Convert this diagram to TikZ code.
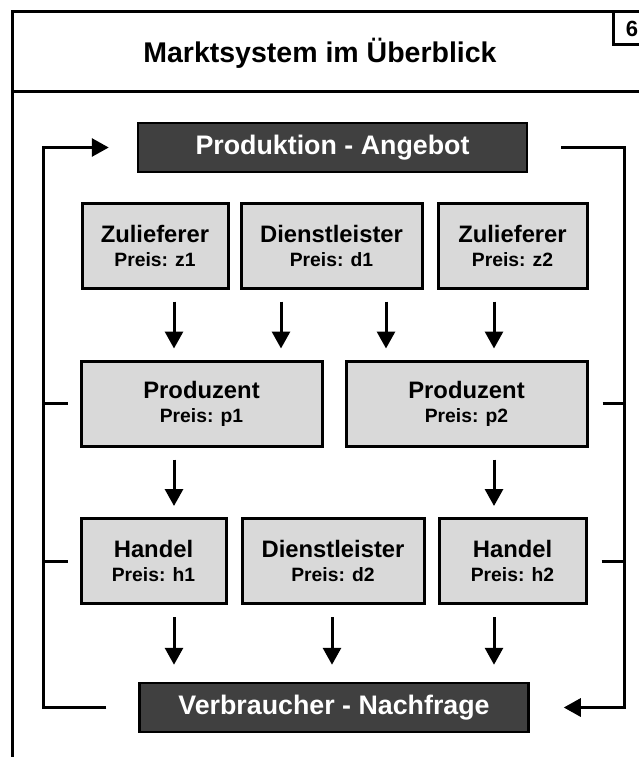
\documentclass[tikz,border=0pt]{standalone}
\usepackage{fontspec}
\setmainfont{Liberation Sans}
\usetikzlibrary{arrows.meta}
\definecolor{dunkel}{HTML}{404040}
\definecolor{hell}{HTML}{D9D9D9}
\newcommand\preis[1]{\\{\fontsize{19.3}{24}\selectfont Preis: #1}}

\begin{document}
\begin{tikzpicture}[x=1pt,y=-1pt,
  kasten/.style={draw=black, fill=hell, line width=3pt, inner sep=0pt, minimum height=85pt, align=center, font=\bfseries\fontsize{23.8}{24}\selectfont},
  balken/.style={draw=black, fill=dunkel, line width=2.5pt, text=white, inner sep=0pt, minimum width=389pt, minimum height=49pt, font=\bfseries\fontsize{26.8}{30}\selectfont},
  linie/.style={line width=3pt},
  pfeil/.style={line width=3pt, -{Triangle[width=18pt,length=17pt]}, shorten <=12pt, shorten >=11pt}]
\useasboundingbox (0,0) rectangle (639,757);

% Rahmen
\draw[linie] (12,757) -- (12,12) -- (639,12);
\draw[linie] (12,92) -- (639,92);
\draw[linie] (613,12) -- (613,45) -- (639,45);
\node[anchor=base, font=\bfseries\fontsize{28.5}{34}\selectfont] (titel) at (320,63) {Marktsystem im Überblick};
\node[anchor=base, font=\bfseries\fontsize{22}{26}\selectfont] (nr) at (632,37) {6};

% Angebot und Nachfrage
\node[balken] (prod) at (332.5,147.5) {Produktion - Angebot};
\node[balken] (verb) at (334,707.5) {Verbraucher - Nachfrage};

% erste Reihe
\node[kasten, minimum width=146pt] (z1) at (155,245.5) {Zulieferer\preis{z1}};
\node[kasten, minimum width=181pt] (d1) at (331.5,245.5) {Dienstleister\preis{d1}};
\node[kasten, minimum width=149pt] (z2) at (512.5,245.5) {Zulieferer\preis{z2}};

% zweite Reihe
\node[kasten, minimum width=241pt] (p1) at (201.5,403.5) {Produzent\preis{p1}};
\node[kasten, minimum width=241pt] (p2) at (466.5,403.5) {Produzent\preis{p2}};

% dritte Reihe
\node[kasten, minimum width=145pt] (h1) at (153.5,561) {Handel\preis{h1}};
\node[kasten, minimum width=182pt] (d2) at (333,561) {Dienstleister\preis{d2}};
\node[kasten, minimum width=147pt] (h2) at (512.5,561) {Handel\preis{h2}};

% Spalten der Pfeile
\coordinate (s1) at (174,0);
\coordinate (s2) at (281,0);
\coordinate (s3) at (386,0);
\coordinate (s4) at (494,0);
\coordinate (s5) at (332,0);
\coordinate (ll) at (43,0);
\coordinate (rl) at (624,0);

\draw[pfeil] (z1.south -| s1) -- (p1.north -| s1);
\draw[pfeil] (d1.south -| s2) -- (p1.north -| s2);
\draw[pfeil] (d1.south -| s3) -- (p2.north -| s3);
\draw[pfeil] (z2.south -| s4) -- (p2.north -| s4);

\draw[pfeil] (p1.south -| s1) -- (h1.north -| s1);
\draw[pfeil] (p2.south -| s4) -- (h2.north -| s4);

\draw[pfeil, shorten >=17pt] (h1.south -| s1) -- (verb.north -| s1);
\draw[pfeil, shorten >=17pt] (d2.south -| s5) -- (verb.north -| s5);
\draw[pfeil, shorten >=17pt] (h2.south -| s4) -- (verb.north -| s4);

% Kreislauf
\draw[pfeil, shorten <=32pt, shorten >=28pt] (verb.west) -- (verb.west -| ll) -- (prod.west -| ll) -- (prod.west);
\draw[pfeil, shorten <=33pt, shorten >=34pt] (prod.east) -- (prod.east -| rl) -- (verb.east -| rl) -- (verb.east);
\draw[linie, shorten <=12pt] (p1.west) -- (p1.west -| ll);
\draw[linie, shorten <=12pt] (h1.west) -- (h1.west -| ll);
\draw[linie, shorten <=14pt] (p2.east) -- (p2.east -| rl);
\draw[linie, shorten <=14pt] (h2.east) -- (h2.east -| rl);
\end{tikzpicture}
\end{document}
